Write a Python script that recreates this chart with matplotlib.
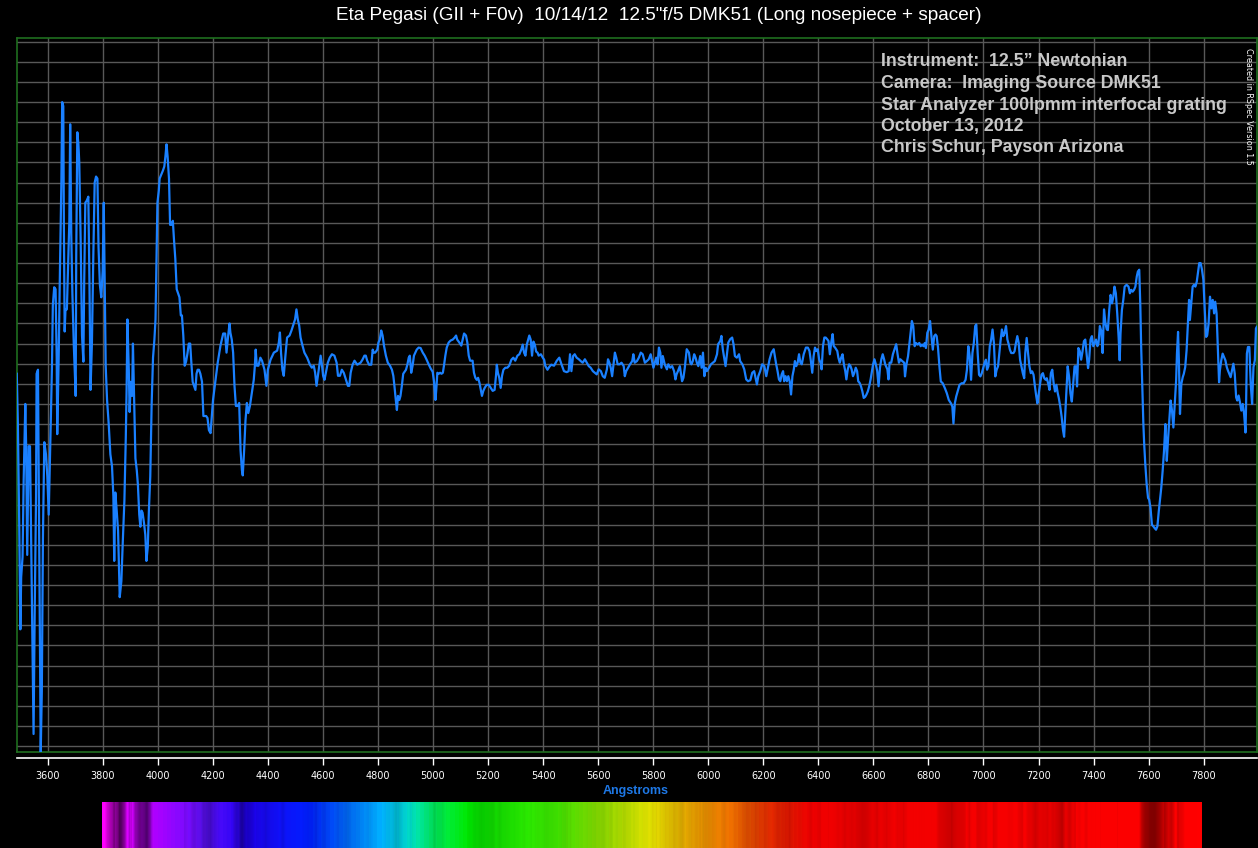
import numpy as np
import matplotlib.pyplot as plt
from matplotlib.colors import LinearSegmentedColormap

# spectrum, in pieces (wavelength in Angstroms, relative flux)
wl_uv = [3488, 3492, 3497, 3501, 3504, 3509, 3513, 3519, 3522, 3526, 3531, 3536, 3539, 3544, 3549,
         3553, 3558, 3560, 3565, 3570, 3575, 3579, 3583, 3588, 3594, 3599, 3604, 3608, 3612, 3616,
         3619, 3624, 3629, 3633, 3635, 3640, 3645, 3650, 3653, 3657, 3659, 3662, 3665, 3670, 3675,
         3679, 3682, 3686, 3690, 3695, 3698, 3702, 3704, 3708, 3712, 3715, 3720, 3725, 3730, 3733,
         3737, 3742, 3748, 3752, 3756, 3761, 3766, 3771, 3776, 3781, 3785, 3790, 3795, 3800, 3804,
         3807, 3811, 3816, 3822, 3828, 3834, 3839, 3842, 3846, 3851, 3856, 3862, 3868, 3873, 3879,
         3884, 3887, 3890, 3895, 3898, 3902, 3907, 3910, 3914, 3919, 3924, 3928, 3933, 3937, 3941,
         3945, 3950, 3955, 3959, 3964, 3968, 3973, 3978, 3983, 3988, 3992, 3995, 3999, 4004, 4007,
         4013, 4019, 4024, 4028, 4032, 4036, 4041, 4045, 4050, 4055, 4059, 4064, 4069, 4074, 4079,
         4084, 4088, 4093, 4098, 4103, 4108, 4113, 4118, 4122, 4127, 4132, 4137, 4141, 4145, 4150,
         4155, 4161, 4166, 4171, 4176, 4181, 4186]
flux_uv = [1.85, 1.60, 1.09, 0.58, 0.84, 0.94, 1.32, 1.70, 1.49, 0.95, 1.49, 1.49, 1.16, 0.61, 0.06,
           0.65, 1.24, 1.85, 1.87, 0.92, -0.03, 0.27, 1.03, 1.51, 1.45, 1.34, 1.15, 1.39, 1.64, 1.90,
           2.19, 2.28, 2.27, 1.93, 1.55, 1.91, 2.38, 2.80, 3.20, 3.18, 2.61, 2.06, 2.17, 2.17, 2.42,
           2.61, 3.09, 2.54, 2.25, 2.00, 1.89, 1.74, 2.43, 3.05, 2.99, 2.90, 2.52, 2.04, 1.91, 2.31,
           2.70, 2.71, 2.73, 2.31, 1.77, 2.00, 2.43, 2.80, 2.83, 2.82, 2.48, 2.29, 2.23, 2.36, 2.70,
           2.36, 1.89, 1.72, 1.60, 1.45, 1.39, 1.24, 0.92, 1.26, 1.17, 1.07, 0.74, 0.82, 1.01, 1.22,
           1.53, 1.77, 2.12, 1.87, 1.66, 1.81, 1.74, 2.00, 1.74, 1.43, 1.37, 1.30, 1.15, 1.09, 1.17,
           1.16, 1.11, 1.05, 0.92, 0.99, 1.17, 1.34, 1.70, 1.93, 2.02, 2.12, 2.38, 2.70, 2.76, 2.82,
           2.84, 2.86, 2.88, 2.93, 2.99, 2.93, 2.82, 2.59, 2.59, 2.61, 2.52, 2.42, 2.27, 2.25, 2.23,
           2.14, 2.14, 2.04, 1.89, 1.91, 1.95, 2.00, 2.00, 1.91, 1.81, 1.79, 1.77, 1.85, 1.87, 1.87,
           1.85, 1.81, 1.64, 1.64, 1.64, 1.63, 1.57]

wl_blue = [4192, 4201, 4210, 4218, 4228, 4238, 4245, 4250, 4256, 4261, 4264, 4269, 4274, 4279, 4284,
           4291, 4296, 4301, 4306, 4309, 4314, 4319, 4324, 4329, 4335, 4342, 4349, 4353, 4356, 4360,
           4366, 4373, 4379, 4388, 4395, 4400, 4410, 4422, 4434, 4440, 4444, 4448, 4453, 4458, 4464,
           4470, 4479, 4486, 4492, 4499, 4504, 4509, 4514, 4519, 4526, 4533, 4543, 4553, 4560, 4567,
           4572, 4577, 4582, 4587, 4592, 4597, 4601, 4606, 4611, 4618, 4625, 4633, 4642, 4650, 4655,
           4662, 4669, 4676, 4684, 4691, 4696, 4701, 4708, 4715, 4725, 4737, 4744, 4751, 4756, 4761,
           4768, 4776, 4781, 4785, 4790, 4798, 4802, 4807, 4812, 4817, 4822, 4829, 4836, 4844, 4851,
           4856, 4860, 4865, 4869, 4873, 4878, 4882, 4887, 4892, 4897, 4902, 4907, 4912, 4916, 4921,
           4926, 4931, 4936, 4941, 4948, 4955, 4963, 4970, 4977, 4985, 4992, 4999, 5004, 5009, 5012,
           5016, 5021, 5026, 5031, 5036, 5040, 5045, 5050, 5057, 5064, 5072, 5079, 5084, 5088, 5096,
           5103, 5108, 5113, 5120, 5125, 5130, 5135, 5140, 5144, 5149, 5154, 5159, 5164, 5169, 5174,
           5178, 5183, 5188, 5195, 5203, 5210, 5217, 5224, 5229, 5232, 5236, 5241, 5246, 5251, 5256,
           5263, 5270, 5277, 5285, 5292, 5299, 5307, 5314, 5321, 5326, 5331, 5336, 5341, 5346, 5350,
           5355, 5360, 5365, 5370, 5375, 5380, 5384, 5392, 5399, 5404, 5408, 5416, 5423, 5430, 5440,
           5450, 5459]
flux_blue = [1.555, 1.72, 1.82, 1.905, 1.99, 2.05, 2.05, 1.955, 2.04, 2.10, 2.055, 2.02, 1.955, 1.79, 1.69,
             1.69, 1.705, 1.47, 1.37, 1.345, 1.47, 1.62, 1.705, 1.655, 1.69, 1.755, 1.82, 1.89, 1.97, 1.89,
             1.89, 1.93, 1.915, 1.87, 1.79, 1.87, 1.92, 1.955, 1.965, 2.005, 2.055, 1.955, 1.87, 1.84, 1.94,
             2.03, 2.04, 2.065, 2.09, 2.12, 2.17, 2.12, 2.09, 2.03, 1.99, 1.955, 1.93, 1.895, 1.88, 1.89,
             1.855, 1.79, 1.84, 1.89, 1.94, 1.89, 1.84, 1.82, 1.855, 1.905, 1.93, 1.947, 1.94, 1.905, 1.84,
             1.84, 1.87, 1.855, 1.82, 1.79, 1.79, 1.855, 1.895, 1.915, 1.895, 1.905, 1.92, 1.94, 1.94, 1.915,
             1.895, 1.895, 1.97, 1.955, 1.955, 1.97, 2.005, 2.02, 2.065, 2.04, 1.99, 1.94, 1.905, 1.89, 1.87,
             1.84, 1.79, 1.72, 1.67, 1.74, 1.72, 1.74, 1.79, 1.85, 1.86, 1.87, 1.895, 1.93, 1.94, 1.855,
             1.89, 1.94, 1.955, 1.97, 1.98, 1.978, 1.955, 1.94, 1.92, 1.895, 1.875, 1.86, 1.81, 1.72, 1.77,
             1.855, 1.85, 1.855, 1.85, 1.855, 1.89, 1.94, 1.98, 2.005, 2.015, 2.02, 2.03, 2.04, 2.02, 2.005,
             1.99, 2.02, 2.05, 2.04, 2.005, 1.94, 1.915, 1.915, 1.915, 1.855, 1.83, 1.82, 1.83, 1.805, 1.77,
             1.74, 1.765, 1.78, 1.795, 1.795, 1.78, 1.765, 1.77, 1.84, 1.895, 1.855, 1.83, 1.78, 1.84, 1.87,
             1.88, 1.88, 1.89, 1.92, 1.93, 1.915, 1.94, 1.947, 1.97, 1.995, 1.955, 1.94, 1.995, 2.02, 2.04,
             2.02, 1.94, 2.01, 1.995, 1.96, 1.955, 1.94, 1.947, 1.93, 1.92, 1.89, 1.87, 1.885, 1.895, 1.89,
             1.915, 1.93]

wl_mid = [5467, 5476, 5486, 5493, 5498, 5503, 5509, 5515, 5522, 5530, 5537, 5544, 5552, 5559, 5566,
          5573, 5581, 5588, 5595, 5602, 5610, 5617, 5624, 5632, 5636, 5641, 5646, 5651, 5656, 5661,
          5666, 5671, 5678, 5685, 5693, 5697, 5702, 5709, 5716, 5724, 5728, 5733, 5741, 5748, 5755,
          5762, 5770, 5777, 5784, 5791, 5796, 5801, 5806, 5811, 5816, 5821, 5826, 5830, 5835, 5842,
          5850, 5855, 5862, 5869, 5876, 5881, 5885, 5890, 5897, 5905, 5910, 5915, 5922, 5930, 5935,
          5939, 5944, 5949, 5954, 5959, 5964, 5971, 5976, 5981, 5986, 5991, 5995, 6003, 6010, 6017,
          6024, 6032, 6036, 6044, 6048, 6053, 6058, 6063, 6068, 6073, 6080, 6087, 6092, 6097, 6104,
          6112, 6116, 6124, 6131, 6138, 6145, 6153, 6160, 6167, 6172, 6177, 6182, 6189, 6196, 6204,
          6211, 6216, 6223, 6230, 6238, 6242, 6247, 6252, 6257, 6262, 6267, 6272, 6276, 6281, 6286,
          6291, 6296, 6301, 6306, 6311, 6315, 6320, 6325, 6330, 6335, 6340, 6347, 6355, 6362, 6368,
          6373, 6378, 6383, 6388, 6393, 6398, 6403, 6408, 6412, 6417, 6422, 6427, 6432, 6437, 6442,
          6447, 6452, 6456, 6461, 6469, 6473, 6478, 6483, 6488, 6493, 6498, 6502, 6507, 6512, 6517,
          6521, 6526, 6531, 6536, 6541, 6545, 6550, 6555, 6560, 6565, 6570, 6575, 6580, 6585, 6590,
          6594, 6599, 6604, 6609, 6614, 6619, 6624, 6629, 6634, 6639, 6643, 6651, 6655, 6659, 6665,
          6671, 6679, 6683, 6688, 6693, 6698, 6705, 6712]
flux_mid = [1.897, 1.863, 1.858, 1.863, 1.947, 1.863, 1.938, 1.947, 1.93, 1.922, 1.913, 1.905, 1.922, 1.905, 1.888,
            1.88, 1.863, 1.855, 1.847, 1.872, 1.863, 1.838, 1.83, 1.872, 1.922, 1.905, 1.88, 1.838, 1.897, 1.955,
            1.93, 1.897, 1.897, 1.905, 1.888, 1.838, 1.863, 1.88, 1.897, 1.913, 1.947, 1.905, 1.913, 1.93, 1.955,
            1.947, 1.905, 1.913, 1.922, 1.947, 1.913, 1.88, 1.905, 1.93, 1.897, 1.98, 1.955, 1.88, 1.938, 1.897,
            1.872, 1.897, 1.88, 1.888, 1.863, 1.822, 1.847, 1.863, 1.888, 1.813, 1.83, 1.88, 1.972, 1.955, 1.905,
            1.897, 1.913, 1.947, 1.93, 1.905, 1.888, 1.938, 1.88, 1.955, 1.838, 1.88, 1.863, 1.88, 1.897, 1.905,
            1.913, 1.947, 1.997, 2.013, 2.038, 1.972, 1.93, 1.888, 1.947, 2.005, 2.022, 2.03, 1.997, 1.938, 1.93,
            1.947, 1.913, 1.897, 1.872, 1.822, 1.813, 1.818, 1.855, 1.863, 1.83, 1.797, 1.838, 1.863, 1.897, 1.888,
            1.838, 1.872, 1.922, 1.955, 1.972, 1.938, 1.897, 1.863, 1.822, 1.813, 1.847, 1.863, 1.813, 1.838, 1.813,
            1.838, 1.813, 1.747, 1.838, 1.872, 1.913, 1.888, 1.905, 1.947, 1.905, 1.897, 1.947, 1.98, 1.98, 1.963,
            1.913, 1.855, 1.938, 1.98, 1.963, 1.972, 1.922, 1.905, 1.872, 1.988, 2.03, 2.03, 2.022, 2.013, 1.947,
            2.005, 2.047, 1.988, 1.98, 1.963, 1.93, 1.905, 1.93, 1.947, 1.897, 1.863, 1.822, 1.872, 1.897, 1.888,
            1.872, 1.838, 1.855, 1.88, 1.863, 1.813, 1.805, 1.788, 1.763, 1.73, 1.735, 1.747, 1.763, 1.788, 1.822,
            1.855, 1.897, 1.922, 1.897, 1.863, 1.788, 1.88, 1.922, 1.947, 1.922, 1.897, 1.872, 1.822, 1.905, 1.905,
            1.947, 1.98, 1.997, 1.947, 1.905, 1.922, 1.913, 1.905]

wl_red = [6715, 6720, 6726, 6730, 6735, 6740, 6745, 6750, 6755, 6761, 6767, 6772, 6777, 6782, 6787,
          6791, 6796, 6801, 6806, 6811, 6816, 6821, 6826, 6830, 6835, 6840, 6845, 6852, 6860, 6867,
          6874, 6882, 6887, 6891, 6896, 6901, 6906, 6913, 6921, 6928, 6935, 6940, 6945, 6950, 6955,
          6960, 6965, 6970, 6974, 6979, 6984, 6989, 6994, 6999, 7004, 7009, 7013, 7018, 7023, 7028,
          7033, 7038, 7043, 7048, 7053, 7057, 7062, 7067, 7072, 7077, 7082, 7087, 7092, 7096, 7101,
          7109, 7113, 7118, 7123, 7128, 7133, 7138, 7143, 7148, 7152, 7157, 7162, 7167, 7172, 7177,
          7182, 7187, 7192, 7196, 7201, 7206, 7211, 7216, 7221, 7226, 7230, 7235, 7240, 7245, 7250,
          7255, 7260, 7265, 7270, 7274, 7279, 7284, 7289, 7293, 7296, 7301, 7306, 7311, 7316, 7321,
          7326, 7331, 7336, 7340, 7345, 7350, 7355, 7360, 7365, 7370, 7375, 7380, 7384, 7389, 7394,
          7399, 7404, 7409, 7414, 7418, 7423, 7428, 7433, 7438, 7443, 7448]
flux_red = [1.837, 1.895, 1.937, 1.987, 2.053, 2.112, 2.087, 1.987, 2.003, 1.995, 2.003, 1.987, 1.995, 1.987, 2.003,
            1.978, 2.053, 2.07, 2.112, 2.037, 1.97, 2.037, 2.045, 2.037, 1.978, 1.887, 1.812, 1.803, 1.778, 1.753,
            1.72, 1.703, 1.687, 1.603, 1.703, 1.737, 1.762, 1.795, 1.803, 1.803, 1.82, 1.87, 1.987, 1.937, 1.82,
            1.953, 2.003, 2.087, 2.095, 1.953, 1.845, 1.837, 1.853, 1.878, 1.903, 1.92, 1.87, 1.887, 1.987, 2.02,
            2.07, 2.003, 1.837, 1.87, 1.887, 1.945, 2.012, 2.07, 2.037, 2.053, 2.087, 2.02, 1.995, 1.97, 1.953,
            1.953, 1.962, 2.003, 2.037, 2.003, 1.92, 1.887, 1.853, 1.828, 1.953, 2.028, 1.953, 1.887, 1.853, 1.862,
            1.845, 1.787, 1.737, 1.703, 1.753, 1.803, 1.845, 1.853, 1.828, 1.82, 1.828, 1.803, 1.77, 1.853, 1.87,
            1.803, 1.762, 1.795, 1.753, 1.728, 1.687, 1.637, 1.57, 1.537, 1.62, 1.753, 1.887, 1.837, 1.753, 1.712,
            1.803, 1.887, 1.887, 1.787, 1.978, 1.962, 1.92, 1.962, 2.012, 2.02, 1.945, 1.878, 1.92, 2.02, 2.037,
            1.987, 2.003, 2.02, 1.987, 2.003, 2.087, 2.062, 1.953, 2.17, 2.103, 2.07]

wl_ir = [7452, 7457, 7462, 7467, 7472, 7476, 7481, 7486, 7491, 7495, 7498, 7503, 7508, 7513, 7520,
         7527, 7532, 7537, 7542, 7547, 7552, 7557, 7561, 7566, 7570, 7573, 7577, 7581, 7584, 7588,
         7593, 7598, 7602, 7607, 7612, 7617, 7622, 7627, 7632, 7637, 7642, 7646, 7651, 7656, 7661,
         7664, 7666, 7671, 7676, 7680, 7685, 7690, 7695, 7700, 7703, 7707, 7710, 7714, 7719, 7724,
         7728, 7733, 7738, 7743, 7747, 7750, 7755, 7760, 7765, 7770, 7775, 7779, 7784, 7789, 7794,
         7799, 7804, 7809, 7813, 7818, 7823, 7828, 7833, 7838, 7842, 7847, 7852, 7856, 7859, 7864,
         7869, 7874, 7879, 7884, 7888, 7893, 7898, 7903, 7908, 7913, 7918, 7922, 7927, 7932, 7937,
         7942, 7947, 7952, 7954, 7957, 7961, 7966, 7971, 7976, 7981, 7986, 7990, 7993]
flux_ir = [2.067, 2.167, 2.242, 2.2, 2.233, 2.283, 2.25, 2.15, 2.033, 1.917, 2.05, 2.167, 2.217, 2.283, 2.292,
           2.283, 2.25, 2.267, 2.258, 2.267, 2.283, 2.333, 2.358, 2.367, 2.183, 1.983, 1.8, 1.6, 1.5, 1.4,
           1.3, 1.233, 1.225, 1.183, 1.1, 1.092, 1.083, 1.075, 1.092, 1.167, 1.233, 1.283, 1.367, 1.467, 1.6,
           1.5, 1.417, 1.533, 1.633, 1.717, 1.667, 1.583, 1.7, 1.817, 1.95, 2.058, 1.917, 1.65, 1.8, 1.833,
           1.85, 1.883, 1.967, 2.1, 2.217, 2.117, 2.2, 2.283, 2.292, 2.283, 2.308, 2.35, 2.4, 2.4, 2.367,
           2.317, 2.167, 2.033, 2.042, 2.1, 2.233, 2.175, 2.217, 2.15, 2.208, 2.15, 1.967, 1.808, 1.867, 1.917,
           1.95, 1.933, 1.917, 1.883, 1.867, 1.85, 1.833, 1.867, 1.9, 1.85, 1.733, 1.717, 1.742, 1.708, 1.667,
           1.7, 1.65, 1.558, 1.683, 1.95, 1.983, 1.983, 1.8, 1.7, 1.883, 1.917, 2.075, 2.083]

tick_values = list(range(3600, 7801, 200))
title = 'Eta Pegasi (GII + F0v)  10/14/12  12.5"f/5 DMK51 (Long nosepiece + spacer)'
notes = ['Instrument:  12.5\u201d Newtonian',
         'Camera:  Imaging Source DMK51',
         'Star Analyzer 100lpmm interfocal grating',
         'October 13, 2012',
         'Chris Schur, Payson Arizona']

wavelength = np.array(wl_uv + wl_blue + wl_mid + wl_red + wl_ir, dtype=float)
flux = np.array(flux_uv + flux_blue + flux_mid + flux_red + flux_ir)

W, H = 1258, 848
fig = plt.figure(figsize=(W / 100, H / 100), dpi=100, facecolor='black')

ax = fig.add_axes([16.5 / W, 1 - 752.3 / H, 1240 / W, 714 / H], facecolor='black')
ax.plot(wavelength, flux, color='#1a80ff', lw=1.6, zorder=3)
ax.set_xlim(3487, 7992)
ax.set_ylim(-0.031, 3.517)
ax.set_xticks(tick_values)
ax.set_yticks(np.arange(0, 3.51, 0.1))
ax.grid(color='#585858', lw=1)
ax.tick_params(length=0, labelbottom=False, labelleft=False)
for sp in ax.spines.values():
    sp.set_color('#1f6e1f')
    sp.set_linewidth(1.2)

sec = ax.secondary_xaxis(-0.0084)
sec.set_xticks(tick_values)
sec.spines['bottom'].set_color('white')
sec.spines['bottom'].set_linewidth(1.2)
sec.tick_params(colors='white', length=5, width=1, labelsize=7, pad=4)

fig.text(659 / W, 1 - 16 / H, title, ha='center', va='center', color='white',
         fontsize=13.7, family='Liberation Sans')
for i, line in enumerate(notes):
    fig.text(881 / W, 1 - (62 + 21.5 * i) / H, line, ha='left', va='center', color='#c8c8c8',
             fontsize=12.8, fontweight='bold', family='Liberation Sans')
fig.text(1249 / W, 1 - 106 / H, 'Created in RSpec Version 1.5', rotation=-90, ha='center',
         va='center', color='white', fontsize=5.8, family='Liberation Sans Narrow')
fig.text(636 / W, 1 - 791 / H, 'Angstroms', ha='center', va='center', color='#1e78e6',
         fontsize=9, fontweight='bold', family='Liberation Sans')

# synthetic colour strip below the axis, brightness follows the flux
stops = [(3800, '#ff00ff'), (3980, '#b000ff'), (4160, '#6010ff'), (4320, '#2000f0'),
         (4550, '#0020ff'), (4810, '#00b0ff'), (4900, '#00e0e0'), (5000, '#00f060'),
         (5130, '#00e800'), (5450, '#40e800'), (5650, '#a0e000'), (5790, '#e8e800'),
         (5950, '#e8a000'), (6090, '#f07000'), (6220, '#e83000'), (6380, '#f00000'),
         (7800, '#ff0000')]
cmap = LinearSegmentedColormap.from_list('strip', [((w - 3800) / 4000, c) for w, c in stops])
strip_wl = np.linspace(3800, 7800, 1100)
rgb = cmap((strip_wl - 3800) / 4000)[:, :3]
bright = np.clip(np.interp(strip_wl, wavelength, flux) / 2.0, 0.3, 1.0) ** 1.1
img = (rgb * bright[:, None])[None, :, :]

sax = fig.add_axes([102 / W, 0, 1100 / W, 46 / H])
sax.imshow(img, aspect='auto', extent=(3800, 7800, 0, 1), interpolation='bilinear')
sax.axis('off')

fig.savefig('out.png', dpi=100, facecolor='black')
